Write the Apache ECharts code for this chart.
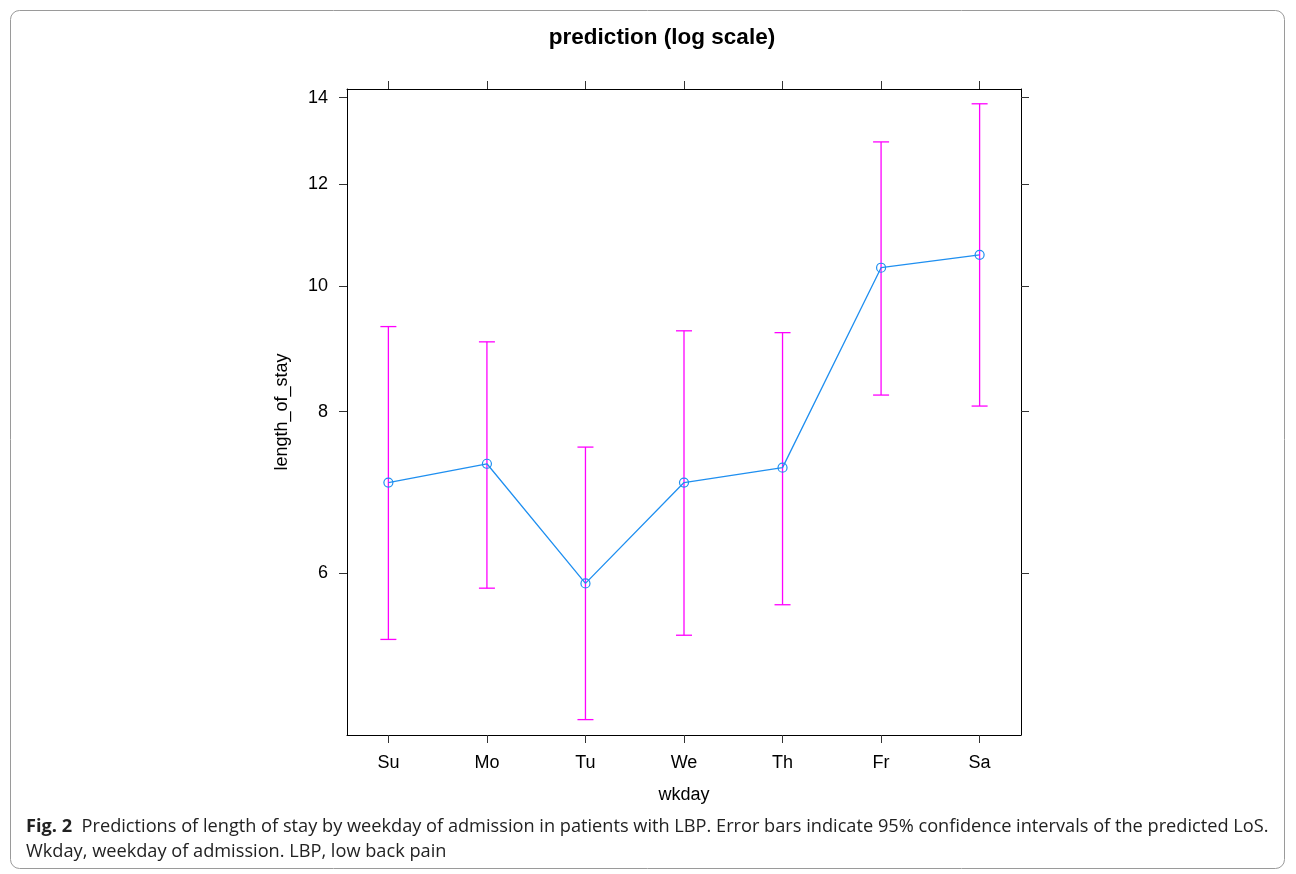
<!DOCTYPE html>
<html>
<head>
<meta charset="utf-8">
<script src="https://cdn.jsdelivr.net/npm/echarts@6/dist/echarts.min.js"></script>
<style>
html,body{margin:0;padding:0;background:#fff;}
#chart{width:1296px;height:874px;}
</style>
</head>
<body>
<div id="chart"></div>
<script>
var categories = ['Su', 'Mo', 'Tu', 'We', 'Th', 'Fr', 'Sa'];
var fitValues = [7.05, 7.29, 5.89, 7.05, 7.24, 10.34, 10.58];
var lowerValues = [5.33, 5.84, 4.62, 5.37, 5.67, 8.24, 8.08];
var upperValues = [9.31, 9.06, 7.51, 9.24, 9.21, 12.94, 13.85];
var yTickValues = [6, 8, 10, 12, 14];
var xTickValues = [0, 1, 2, 3, 4, 5, 6];

var fitData = categories.map(function (c, i) { return [i, fitValues[i]]; });
var ciData = categories.map(function (c, i) { return [i, lowerValues[i], upperValues[i]]; });

var font = '"Liberation Sans", Arial, Helvetica, sans-serif';
var chart = echarts.init(document.getElementById('chart'), null, {renderer: 'canvas'});

var axisLine = {show: true, onZero: false, lineStyle: {color: '#000', width: 1}};
var axisTick = {show: true, inside: false, length: 8, lineStyle: {color: '#333', width: 1}};

var option = {
  backgroundColor: '#fff',
  animation: false,
  title: {
    text: 'prediction (log scale)',
    left: 657, top: 21, textAlign: 'center',
    textStyle: {fontFamily: font, fontSize: 22.5, fontWeight: 'bold', color: '#000'}
  },
  grid: {left: 347, right: 275, top: 89, bottom: 139, containLabel: false},
  xAxis: [{
    type: 'value', min: -0.42, max: 6.42, position: 'bottom',
    name: 'wkday', nameLocation: 'middle', nameGap: 51,
    nameTextStyle: {fontFamily: font, fontSize: 18, color: '#000'},
    axisLine: axisLine,
    axisTick: Object.assign({}, axisTick, {customValues: xTickValues}),
    axisLabel: {
      customValues: xTickValues, margin: 19,
      fontFamily: font, fontSize: 18, color: '#000',
      formatter: function (v) { return categories[Math.round(v)]; }
    },
    splitLine: {show: false}
  }, {
    type: 'value', min: -0.42, max: 6.42, position: 'top',
    axisLine: axisLine,
    axisTick: Object.assign({}, axisTick, {customValues: xTickValues}),
    axisLabel: {show: false},
    splitLine: {show: false}
  }],
  yAxis: [{
    type: 'log', min: 4.495, max: 14.22, position: 'left',
    name: 'length_of_stay', nameLocation: 'middle', nameGap: 56, nameRotate: 90,
    nameTextStyle: {fontFamily: font, fontSize: 18, color: '#000'},
    axisLine: axisLine,
    axisTick: Object.assign({}, axisTick, {customValues: yTickValues}),
    axisLabel: {
      customValues: yTickValues, margin: 19,
      fontFamily: font, fontSize: 18, color: '#000',
      formatter: function (v) { return String(Math.round(v)); }
    },
    splitLine: {show: false}
  }, {
    type: 'log', min: 4.495, max: 14.22, position: 'right',
    axisLine: axisLine,
    axisTick: Object.assign({}, axisTick, {customValues: yTickValues}),
    axisLabel: {show: false},
    splitLine: {show: false}
  }],
  graphic: [{
    type: 'rect', silent: true, z: -1,
    shape: {x: 10.5, y: 10.5, width: 1274, height: 858, r: 9},
    style: {fill: 'none', stroke: '#9a9a9a', lineWidth: 1}
  }, {
    type: 'text', left: 26, top: 814, silent: true,
    style: {
      text: '{b|Fig. 2}  Predictions of length of stay by weekday of admission in patients with LBP. Error bars indicate 95% confidence intervals of the predicted LoS.\nWkday, weekday of admission. LBP, low back pain',
      font: '18.2px "Open Sans"',
      fill: '#222', lineHeight: 25,
      rich: {b: {fontFamily: '"Open Sans"', fontWeight: 'bold', fontSize: 18.2, fill: '#222'}}
    }
  }],
  series: [{
    type: 'custom',
    xAxisIndex: 0, yAxisIndex: 0,
    data: ciData,
    z: 2,
    renderItem: function (params, api) {
      var x = api.value(0);
      var lo = api.coord([x, api.value(1)]);
      var hi = api.coord([x, api.value(2)]);
      var hw = 8;
      var st = {stroke: '#ff00ff', lineWidth: 1.3};
      return {
        type: 'group',
        children: [
          {type: 'line', shape: {x1: lo[0], y1: lo[1], x2: hi[0], y2: hi[1]}, style: st},
          {type: 'line', shape: {x1: lo[0] - hw, y1: lo[1], x2: lo[0] + hw, y2: lo[1]}, style: st},
          {type: 'line', shape: {x1: hi[0] - hw, y1: hi[1], x2: hi[0] + hw, y2: hi[1]}, style: st}
        ]
      };
    }
  }, {
    type: 'line',
    xAxisIndex: 0, yAxisIndex: 0,
    data: fitData,
    z: 3,
    symbol: 'circle', symbolSize: 9,
    lineStyle: {color: '#1f8ff0', width: 1.3},
    itemStyle: {color: 'rgba(0,0,0,0)', borderColor: '#1f8ff0', borderWidth: 1.2}
  }]
};
chart.setOption(option);
</script>
</body>
</html>
